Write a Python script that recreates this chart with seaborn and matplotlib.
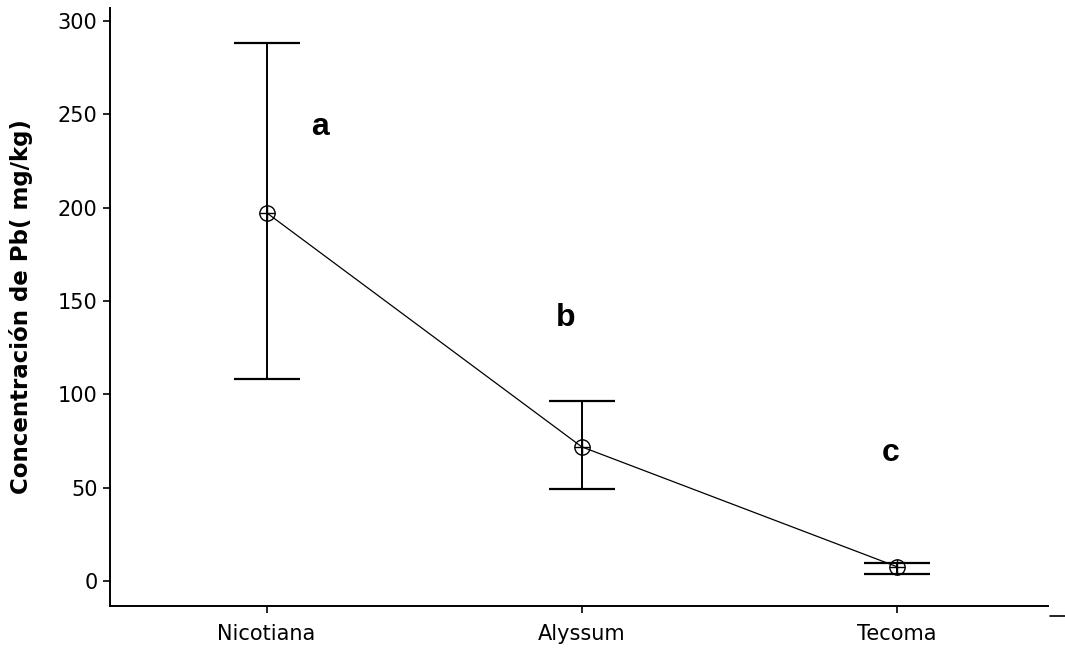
import matplotlib
matplotlib.use("Agg")
import matplotlib.pyplot as plt
import seaborn as sns
import pandas as pd
import numpy as np

especies = ["Nicotiana", "Alyssum", "Tecoma"]
media = [197.3, 71.9, 7.7]
limite_superior = [288.3, 96.2, 9.5]
limite_inferior = [108.2, 49.3, 3.9]
letras = ["a", "b", "c"]
letras_y = [243.0, 141.0, 68.6]
letras_x_offset = [0.17, -0.05, -0.02]
y_ticks = [0, 50, 100, 150, 200, 250, 300]

sns.set_style("white")
plt.rcParams['font.family'] = ['DejaVu Sans']
plt.rcParams['text.color'] = 'black'

df = pd.DataFrame({"especie": especies, "media": media})

fig = plt.figure(figsize=(10.65, 6.48), dpi=100)
ax = fig.add_axes([0.1033, 0.0653, 0.9838 - 0.1033, 0.9877 - 0.0653])

sns.lineplot(data=df, x="especie", y="media", ax=ax, color="black",
             linewidth=0.9, marker="o", markersize=11, markerfacecolor="none",
             markeredgecolor="black", markeredgewidth=1.0, sort=False)

pos = np.arange(len(especies))
m = np.array(media)
yerr = [m - np.array(limite_inferior), np.array(limite_superior) - m]
ax.errorbar(pos, m, yerr=yerr, fmt="none", ecolor="black", elinewidth=1.4,
            capsize=24, capthick=1.6)
ax.plot(pos, m, linestyle="none", marker="+", markersize=11,
        markeredgecolor="black", markeredgewidth=1.0)

for i, (lt, ly, off) in enumerate(zip(letras, letras_y, letras_x_offset)):
    ax.text(i + off, ly, lt, ha="center", va="center", fontsize=23,
            fontweight="bold", family="Liberation Sans", color="black")

ax.set_xlim(-0.497, 2.479)
ax.set_ylim(-13.2, 307)
ax.set_yticks(y_ticks)
ax.set_xticks(pos)
ax.set_xticklabels(especies)
ax.set_xlabel("")
ax.set_ylabel("Concentración de Pb( mg/kg)", fontsize=16.5, fontweight="bold",
              color="black")
ax.yaxis.set_label_coords(-0.082, 0.5)
ax.tick_params(axis="both", direction="out", length=5, width=1.2,
               labelsize=15, colors="black", left=True, bottom=True, pad=4)
ax.tick_params(axis="x", pad=8)

for s in ["top", "right"]:
    ax.spines[s].set_visible(False)
for s in ["left", "bottom"]:
    ax.spines[s].set_color("black")
    ax.spines[s].set_linewidth(1.4)

fig.add_artist(plt.Line2D([1050 / 1065, 1065 / 1065], [1 - 616 / 648, 1 - 616 / 648],
                          color="black", linewidth=1.2))

fig.savefig("out.png", dpi=100)
